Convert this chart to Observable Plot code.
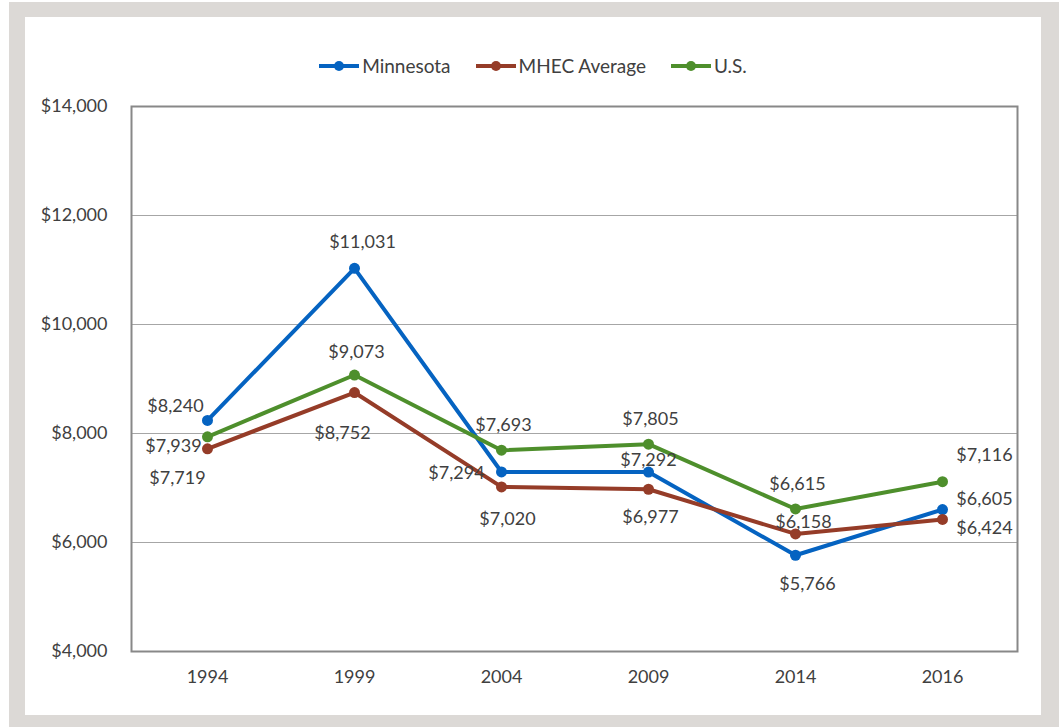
<!DOCTYPE html>
<html>
<head>
<meta charset="utf-8">
<script src="https://cdn.jsdelivr.net/npm/d3@7"></script>
<script src="https://cdn.jsdelivr.net/npm/@observablehq/plot@0.6"></script>
<style>
  html, body { margin: 0; padding: 0; background: #ffffff; }
  #outer { position: absolute; left: 9px; top: 2px; width: 1060px; height: 730px; background: #dcd9d6; }
  #panel { position: absolute; left: 25px; top: 17px; width: 1016px; height: 698px; background: #ffffff; font-family: Lato, "Open Sans", sans-serif; }
  #legend { position: absolute; left: 0; top: 37px; width: 1016px; display: flex; justify-content: center; align-items: center; gap: 25px; font-size: 19px; color: #404040; }
  .item { display: flex; align-items: center; gap: 3px; }
  #chart { position: absolute; left: 0; top: 73px; }
</style>
</head>
<body>
<div id="outer"></div>
<div id="panel">
  <div id="legend"></div>
  <div id="chart"></div>
</div>
<script>
const years = ["1994", "1999", "2004", "2009", "2014", "2016"];
const minnesota = [8240, 11031, 7294, 7292, 5766, 6605];
const mhec = [7719, 8752, 7020, 6977, 6158, 6424];
const us = [7939, 9073, 7693, 7805, 6615, 7116];
const seriesNames = ["Minnesota", "MHEC Average", "U.S."];
const seriesColors = ["#0563c1", "#953c28", "#4e8f2c"];
const yTicks = [4000, 6000, 8000, 10000, 12000, 14000];

// label offsets (dx, dy) for each series' data labels
const labelOffsets = [
  [[-32, -14], [8, -26], [-45, 1], [0, -12], [12, 29], [42, -10]],
  [[-30, 29], [-12, 41], [6, 32], [2, 28], [8, -12], [42, 9]],
  [[-34, 9], [2, -23], [2, -25], [2, -25], [2, -25], [42, -26]]
];

const seriesValues = [minnesota, mhec, us];
const rows = [];
seriesNames.forEach((name, s) => {
  years.forEach((yr, i) => rows.push({series: name, year: yr, value: seriesValues[s][i], s, i}));
});

const fmt = d3.format("$,.0f");

const labelMarks = rows.map(r => Plot.text([r], {
  x: "year", y: "value", text: d => fmt(d.value),
  dx: labelOffsets[r.s][r.i][0], dy: labelOffsets[r.s][r.i][1],
  fill: "#404040", fontSize: 18
}));

const chart = Plot.plot({
  width: 1016,
  height: 601,
  marginTop: 16,
  marginLeft: 106,
  marginRight: 24,
  marginBottom: 40,
  style: {fontFamily: "Lato, 'Open Sans', sans-serif", fontSize: "18px", color: "#404040", background: "transparent"},
  x: {type: "point", domain: years, padding: 0.5, label: null},
  y: {domain: [4000, 14000], label: null},
  color: {domain: seriesNames, range: seriesColors},
  marks: [
    Plot.ruleY(yTicks.slice(1, -1), {stroke: "#a6a6a6", strokeWidth: 1.2}),
    Plot.frame({stroke: "#888888", strokeWidth: 2}),
    Plot.axisY({ticks: yTicks, tickFormat: fmt, tickSize: 0, tickPadding: 24, fontSize: 18, fill: "#404040", label: null}),
    Plot.axisX({tickSize: 0, tickPadding: 19, fontSize: 18, fill: "#404040", label: null}),
    Plot.line(rows, {x: "year", y: "value", z: "series", stroke: "series", strokeWidth: 4}),
    Plot.dot(rows, {x: "year", y: "value", fill: "series", r: 5.5}),
    ...labelMarks
  ]
});
document.getElementById("chart").appendChild(chart);

const legend = document.getElementById("legend");
seriesNames.forEach((name, s) => {
  const item = document.createElement("div");
  item.className = "item";
  item.innerHTML = `<svg width="40" height="12"><line x1="0" y1="6" x2="40" y2="6" stroke="${seriesColors[s]}" stroke-width="4"/><circle cx="20" cy="6" r="5" fill="${seriesColors[s]}"/></svg><span>${name}</span>`;
  legend.appendChild(item);
});
</script>
</body>
</html>
